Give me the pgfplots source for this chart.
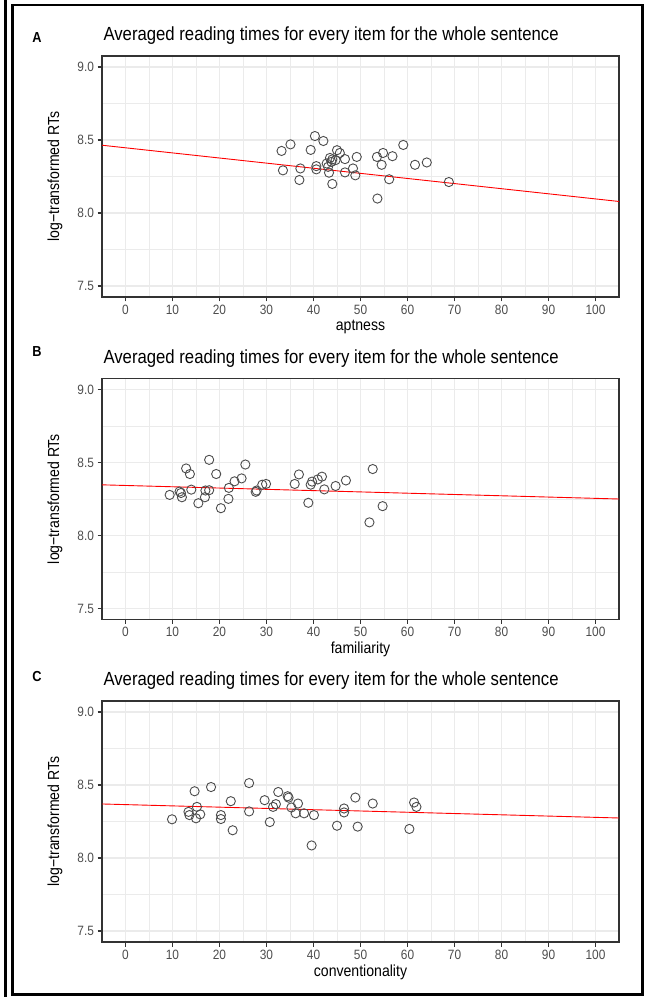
\documentclass[border=0pt]{standalone}
\usepackage{fontspec}
\setmainfont{Liberation Sans}[FakeStretch=0.88]
\usepackage{pgfplots}
\pgfplotsset{compat=1.18}
\definecolor{gridgray}{HTML}{EBEBEB}
\definecolor{framegray}{HTML}{333333}
\definecolor{ticktext}{HTML}{4D4D4D}

% one ggplot-like panel (theme_bw)
\pgfplotsset{
  rtpanel/.style={
    scale only axis, width=517pt, height=241pt,
    xmin=-5, xmax=105, ymin=7.425, ymax=9.075,
    xtick={0,10,...,100}, ytick={7.5,8.0,8.5,9.0},
    minor xtick={5,15,...,95}, minor ytick={7.75,8.25,8.75},
    grid=both,
    major grid style={gridgray, line width=1.6pt},
    minor grid style={gridgray, line width=0.8pt},
    axis line style={framegray, line width=1.2pt},
    tick align=outside, tick pos=left,
    major tick length=4.5pt, minor tick length=0pt,
    every tick/.style={framegray, line width=1.2pt},
    /pgf/number format/assume math mode=true,
    tick label style={font=\fontsize{13.5}{15}\selectfont, text=ticktext},
    yticklabel style={/pgf/number format/fixed, /pgf/number format/fixed zerofill,
                      /pgf/number format/precision=1},
    label style={font=\fontsize{16}{18}\selectfont},
    xlabel style={at={(axis description cs:0.5,-0.125)}, anchor=center},
    ylabel style={at={(axis description cs:-0.0909,0.5)}, anchor=center},
    ylabel={log\textminus transformed RTs},
    title={Averaged reading times for every item for the whole sentence},
    title style={at={(axis description cs:0,1)}, anchor=base west, yshift=9pt,
                 xshift=-2pt, font=\fontsize{19}{22}\selectfont},
  },
  pts/.style={only marks, mark=o, mark size=4.6pt,
              mark options={draw=black!70, line width=0.9pt}},
  fit/.style={red, line width=0.9pt, no marks},
}

\begin{document}
\begin{tikzpicture}
\path[use as bounding box] (0,0) rectangle (646pt,997pt);
% outer frame
\draw[line width=3pt] (5pt,0pt) -- (5pt,997pt);
\draw[line width=2.5pt] (12.5pt,992pt) -- (642.5pt,992pt) -- (642.5pt,2.5pt) -- (12.5pt,2.5pt) -- cycle;

% panel letters
\node[font=\fontsize{14.5}{16}\selectfont\bfseries] at (37pt,959pt) {A};
\node[font=\fontsize{14.5}{16}\selectfont\bfseries] at (37pt,645pt) {B};
\node[font=\fontsize{14.5}{16}\selectfont\bfseries] at (37pt,320pt) {C};

% A: aptness
\begin{axis}[rtpanel, at={(102pt,700pt)}, anchor=south west, xlabel={aptness}]
\addplot[pts] coordinates {
(33.2,8.425)(35.1,8.470)(40.3,8.527)(42.1,8.493)(39.4,8.432)(33.5,8.292)
(37.2,8.305)(37.0,8.226)(40.6,8.321)(40.6,8.299)(42.8,8.339)(43.5,8.377)
(43.1,8.316)(43.3,8.276)(44.0,8.199)(45.0,8.430)(45.6,8.411)(44.7,8.362)
(46.7,8.369)(46.7,8.278)(48.4,8.305)(48.9,8.258)(49.2,8.384)(53.5,8.384)
(54.8,8.411)(54.5,8.330)(56.8,8.389)(59.1,8.466)(56.1,8.231)(53.6,8.099)
(61.6,8.330)(64.1,8.346)(68.8,8.212)(43.8,8.350)(44.0,8.367)
};
\addplot[fit] coordinates {(-5,8.464)(105,8.079)};
\end{axis}

% B: familiarity
\begin{axis}[rtpanel, at={(102pt,377.5pt)}, anchor=south west, xlabel={familiarity}]
\addplot[pts] coordinates {
(9.4,8.278)(11.5,8.301)(12.0,8.262)(11.8,8.291)(12.9,8.459)(13.7,8.421)
(14.0,8.314)(15.5,8.221)(17.0,8.308)(16.9,8.262)(17.8,8.310)(17.8,8.518)
(19.3,8.421)(20.3,8.187)(21.9,8.251)(22.0,8.326)(23.2,8.371)(24.7,8.391)
(25.5,8.486)(27.7,8.299)(27.9,8.308)(29.1,8.348)(29.9,8.353)(36.0,8.353)
(36.9,8.418)(38.9,8.224)(39.4,8.348)(39.7,8.369)(40.9,8.384)(41.8,8.403)
(42.3,8.316)(44.7,8.339)(46.9,8.377)(52.6,8.455)(51.9,8.090)(54.7,8.201)
};
\addplot[fit] coordinates {(-5,8.347)(105,8.250)};
\end{axis}

% C: conventionality
\begin{axis}[rtpanel, at={(102pt,55pt)}, anchor=south west, xlabel={conventionality}]
\addplot[pts] coordinates {
(9.9,8.265)(13.4,8.316)(13.6,8.294)(14.7,8.457)(15.2,8.350)(15.0,8.272)
(15.9,8.299)(18.2,8.486)(20.3,8.294)(20.3,8.267)(22.8,8.190)(22.4,8.389)
(26.3,8.513)(26.3,8.319)(29.6,8.396)(30.7,8.246)(31.4,8.350)(32.0,8.369)
(32.5,8.452)(34.5,8.423)(34.7,8.413)(35.3,8.346)(36.2,8.306)(36.7,8.373)
(38.0,8.306)(40.1,8.294)(39.6,8.086)(45.0,8.221)(46.5,8.339)(46.5,8.312)
(48.9,8.414)(49.4,8.215)(52.6,8.373)(60.4,8.199)(61.4,8.380)(61.9,8.350)
};
\addplot[fit] coordinates {(-5,8.370)(105,8.274)};
\end{axis}
\end{tikzpicture}
\end{document}
